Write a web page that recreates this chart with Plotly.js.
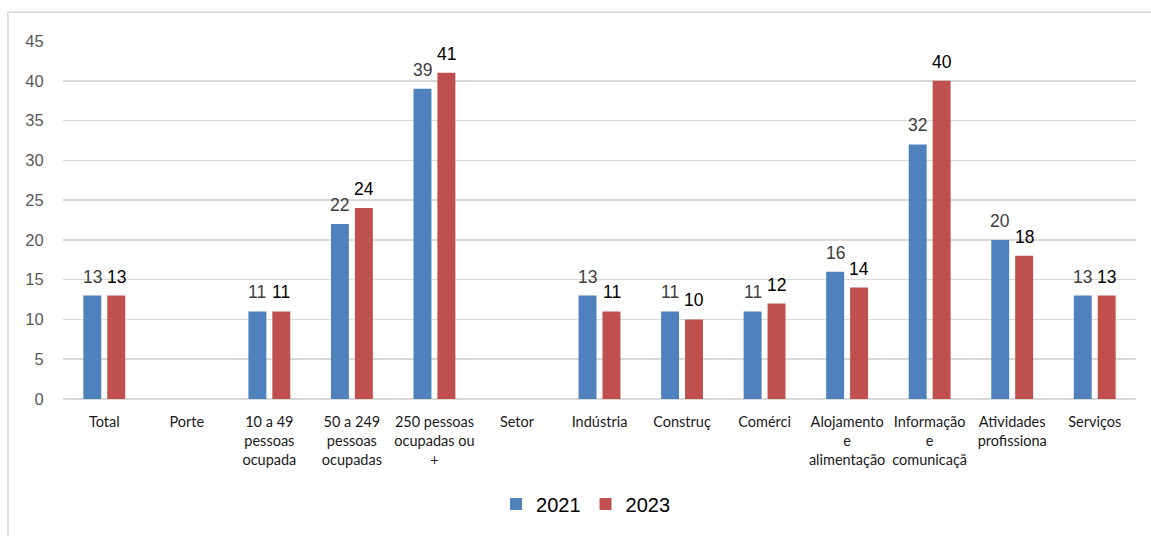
<!DOCTYPE html>
<html>
<head>
<meta charset="utf-8">
<script src="https://cdn.plot.ly/plotly-3.0.1.min.js"></script>
<style>
  html, body { margin: 0; padding: 0; background: #fff; overflow: hidden; }
  #chart { width: 1151px; height: 536px; }
</style>
</head>
<body>
<div id="chart"></div>
<script>
// Categories (firm size and sector) and the share for each year
const categories = [
  "Total", "Porte", "10 a 49<br>pessoas<br>ocupada", "50 a 249<br>pessoas<br>ocupadas",
  "250 pessoas<br>ocupadas ou<br>+", "Setor", "Indústria", "Construç", "Comérci",
  "Alojamento<br>e<br>alimentação", "Informação<br>e<br>comunicaçã", "Atividades<br>profissiona", "Serviços"
];
const values2021 = [13, null, 11, 22, 39, null, 13, 11, 11, 16, 32, 20, 13];
const values2023 = [13, null, 11, 24, 41, null, 11, 10, 12, 14, 40, 18, 13];
const yTicks = [0, 5, 10, 15, 20, 25, 30, 35, 40, 45];

const labelFont = "Liberation Sans, Arial, sans-serif";

// Value labels above each bar, offset sideways to sit over their own bar of the pair
function valueLabels(vals, shift, color) {
  const out = [];
  vals.forEach((v, i) => {
    if (v === null) return;
    out.push({
      x: categories[i], y: v, xref: "x", yref: "y",
      text: String(v), showarrow: false,
      xshift: shift, yshift: 19, yanchor: "middle", xanchor: "center",
      font: { family: labelFont, size: 17.5, color: color }
    });
  });
  return out;
}

const traces = [
  {
    type: "bar", name: "2021", x: categories, y: values2021,
    marker: { color: "#4f81bd" }, hoverinfo: "x+y"
  },
  {
    type: "bar", name: "2023", x: categories, y: values2023,
    marker: { color: "#c0504d" }, hoverinfo: "x+y"
  }
];

const layout = {
  width: 1151, height: 536,
  margin: { l: 63, r: 15, t: 41, b: 133 },
  paper_bgcolor: "#ffffff", plot_bgcolor: "#ffffff",
  barmode: "group", bargap: 0.42, bargroupgap: 0.25,
  showlegend: true,
  legend: {
    orientation: "h", x: 0.487, xanchor: "center", y: -0.293, yanchor: "middle",
    font: { family: labelFont, size: 20, color: "#000000" },
    itemwidth: 30, traceorder: "normal"
  },
  xaxis: {
    type: "category", tickmode: "array", tickvals: categories, ticktext: categories,
    showgrid: false, showline: false, zeroline: false,
    ticks: "outside", ticklen: 10, tickcolor: "rgba(0,0,0,0)",
    tickfont: { family: "Lato, Open Sans, sans-serif", size: 14.5, color: "#1a1a1a" },
    tickangle: 0, automargin: false
  },
  yaxis: {
    range: [0, 45], tickmode: "array", tickvals: yTicks,
    showgrid: true, gridcolor: "#d9d9d9", gridwidth: 1.5,
    zeroline: true, zerolinecolor: "#d9d9d9", zerolinewidth: 1.5,
    showline: false, ticks: "outside", ticklen: 15, tickcolor: "rgba(0,0,0,0)",
    tickfont: { family: labelFont, size: 16.5, color: "#595959" },
    automargin: false, fixedrange: true
  },
  annotations: valueLabels(values2021, -12, "#404040").concat(valueLabels(values2023, 12, "#000000")),
  shapes: [
    {
      type: "rect", xref: "paper", yref: "paper",
      x0: -0.0513, x1: 1.03, y0: -0.40, y1: 1.080,
      line: { color: "#d9d9d9", width: 1.5 }, fillcolor: "rgba(0,0,0,0)", layer: "below"
    }
  ]
};

Plotly.newPlot("chart", traces, layout, { displayModeBar: false, staticPlot: true });
</script>
</body>
</html>
